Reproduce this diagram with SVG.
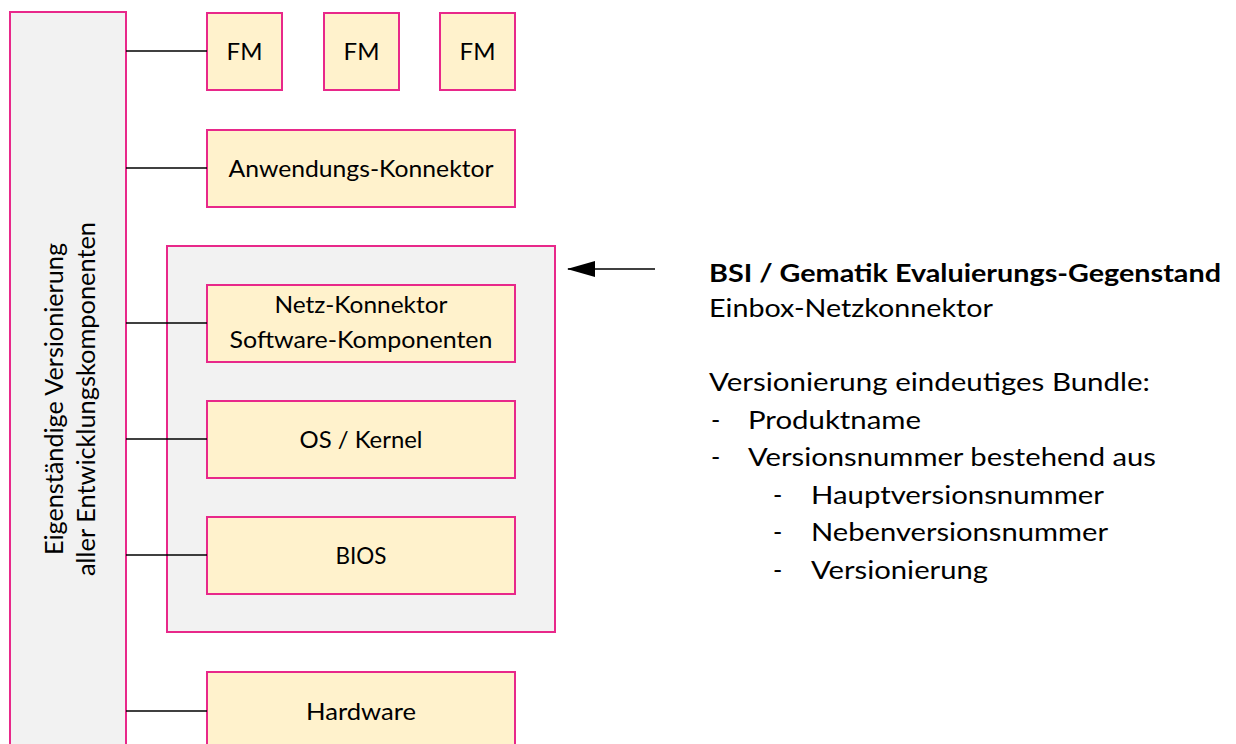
<svg xmlns="http://www.w3.org/2000/svg" width="1236" height="744" viewBox="0 0 1236 744">
<defs>
<style>
.box{fill:#FFF2CC;stroke:#E8288A;stroke-width:2}
.grey{fill:#F2F2F2;stroke:#E8288A;stroke-width:2}
.lbl{font-family:Lato,"Open Sans","Liberation Sans",sans-serif;font-size:24px;fill:#000;text-anchor:middle}
.vlbl{font-family:Lato,"Open Sans","Liberation Sans",sans-serif;font-size:25px;fill:#000;text-anchor:middle}
.txt{font-family:Lato,"Open Sans","Liberation Sans",sans-serif;font-size:25px;fill:#000}
.bold{font-weight:bold}
.conn{stroke:#000;stroke-width:1.5;fill:none}
</style>
<marker id="arr" viewBox="0 0 28 16" refX="27" refY="8" markerWidth="28" markerHeight="16" markerUnits="userSpaceOnUse" orient="auto">
<path d="M0,0 L28,8 L0,16 z" fill="#000"/>
</marker>
</defs>
<rect width="1236" height="744" fill="#fff"/>

<g id="versionierung">
<rect class="grey" x="10" y="12" width="116" height="760"/>
<text class="vlbl" transform="translate(63,399) rotate(-90)" textLength="312" lengthAdjust="spacingAndGlyphs">Eigenständige Versionierung</text>
<text class="vlbl" transform="translate(95,399) rotate(-90)" textLength="354" lengthAdjust="spacingAndGlyphs">aller Entwicklungskomponenten</text>
</g>

<g id="evaluierungsgegenstand">
<rect class="grey" x="167" y="246" width="388" height="386"/>
</g>

<g id="fm1"><rect class="box" x="207" y="13" width="75" height="77"/><text class="lbl" x="244.5" y="60">FM</text></g>
<g id="fm2"><rect class="box" x="324" y="13" width="75" height="77"/><text class="lbl" x="361.5" y="60">FM</text></g>
<g id="fm3"><rect class="box" x="440" y="13" width="75" height="77"/><text class="lbl" x="477.5" y="60">FM</text></g>

<g id="anwendungs-konnektor"><rect class="box" x="207" y="130" width="308" height="77"/><text class="lbl" x="361" y="177" textLength="265" lengthAdjust="spacingAndGlyphs">Anwendungs-Konnektor</text></g>

<g id="netz-konnektor"><rect class="box" x="207" y="285" width="308" height="77"/>
<text class="lbl" x="361" y="313" textLength="173" lengthAdjust="spacingAndGlyphs">Netz-Konnektor</text>
<text class="lbl" x="361" y="348" textLength="263" lengthAdjust="spacingAndGlyphs">Software-Komponenten</text></g>

<g id="os-kernel"><rect class="box" x="207" y="401" width="308" height="77"/><text class="lbl" x="361" y="448" textLength="123" lengthAdjust="spacingAndGlyphs">OS / Kernel</text></g>

<g id="bios"><rect class="box" x="207" y="517" width="308" height="77"/><text class="lbl" x="361" y="564" textLength="51" lengthAdjust="spacingAndGlyphs">BIOS</text></g>

<g id="hardware"><rect class="box" x="207" y="672" width="308" height="80"/><text class="lbl" x="361" y="720" textLength="110" lengthAdjust="spacingAndGlyphs">Hardware</text></g>

<g id="connectors">
<line class="conn" x1="126" y1="51" x2="207" y2="51"/>
<line class="conn" x1="126" y1="168" x2="207" y2="168"/>
<line class="conn" x1="126" y1="323" x2="207" y2="323"/>
<line class="conn" x1="126" y1="439" x2="207" y2="439"/>
<line class="conn" x1="126" y1="555" x2="207" y2="555"/>
<line class="conn" x1="126" y1="711" x2="207" y2="711"/>
<line class="conn" x1="655" y1="269" x2="568" y2="269" marker-end="url(#arr)"/>
</g>

<g id="beschreibung">
<text class="txt bold" x="709" y="282" textLength="512" lengthAdjust="spacingAndGlyphs">BSI / Gematik Evaluierungs-Gegenstand</text>
<text class="txt" x="709" y="317" textLength="284" lengthAdjust="spacingAndGlyphs">Einbox-Netzkonnektor</text>
<text class="txt" x="709" y="391" textLength="441" lengthAdjust="spacingAndGlyphs">Versionierung eindeutiges Bundle:</text>
<text class="txt" x="711" y="429">-</text>
<text class="txt" x="748" y="429" textLength="173" lengthAdjust="spacingAndGlyphs">Produktname</text>
<text class="txt" x="711" y="466">-</text>
<text class="txt" x="748" y="466" textLength="408" lengthAdjust="spacingAndGlyphs">Versionsnummer bestehend aus</text>
<text class="txt" x="773" y="504">-</text>
<text class="txt" x="811" y="504" textLength="293" lengthAdjust="spacingAndGlyphs">Hauptversionsnummer</text>
<text class="txt" x="773" y="541">-</text>
<text class="txt" x="811" y="541" textLength="297" lengthAdjust="spacingAndGlyphs">Nebenversionsnummer</text>
<text class="txt" x="773" y="579">-</text>
<text class="txt" x="811" y="579" textLength="177" lengthAdjust="spacingAndGlyphs">Versionierung</text>
</g>
</svg>
